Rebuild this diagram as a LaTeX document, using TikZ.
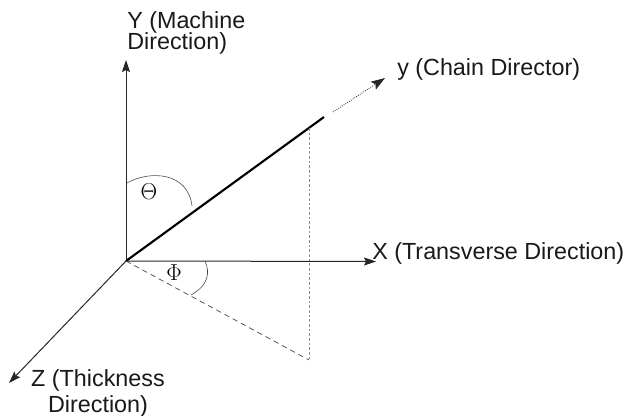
\documentclass[tikz,border=0pt]{standalone}
\usepackage{fontspec}
\setmainfont{Liberation Sans}
\usetikzlibrary{arrows.meta}
\tikzset{
 axis/.style={draw=black!85,line width=0.75pt,-{Stealth[length=9pt,width=6pt,inset=1.5pt]}},
 lbl/.style={inner sep=0pt,font=\fontsize{17.5pt}{21pt}\selectfont,text=black!90},
 greek/.style={inner sep=0pt,font=\fontsize{17pt}{17pt}\selectfont},
 arcline/.style={draw=black!70,line width=0.45pt}
}
\begin{document}
\begin{tikzpicture}[x=0.75pt,y=-0.75pt]
\useasboundingbox (0,0) rectangle (627,416);
\coordinate (o) at (126,261);
\coordinate (yt) at (126,60);
\coordinate (xt) at (376,261.5);
\coordinate (zt) at (9,383);
\coordinate (e) at (324,117);
\coordinate (d1) at (333,112);
\coordinate (d2) at (385,78);
\coordinate (p) at (309,360);
\coordinate (q) at (309,128);
\draw[axis] (o) -- (yt);
\draw[axis] (o) -- (xt);
\draw[axis] (o) -- (zt);
\draw[black,line width=1.6pt] (o) -- (e);
\draw[black!85,line width=0.6pt,densely dotted,-{Stealth[length=10.5pt,width=7pt,inset=2pt]}] (d1) -- (d2);
\draw[black!45,line width=0.7pt,dash pattern=on 2pt off 1.5pt] (q) -- (p);
\draw[black!75,line width=0.5pt,dash pattern=on 4pt off 3pt] (o) -- (p);
\draw[arcline] (127,183) .. controls (150,170) and (188,172) .. (192,206);
\draw[arcline] (205,261) .. controls (210,272) and (209,285) .. (191,295);
\node[lbl,align=left,anchor=west] (ty) at (127,32.5) {Y (Machine\\[-5.25pt]Direction)};
\node[lbl,anchor=base west] (ly) at (397,76) {y (Chain Director)};
\node[lbl,anchor=base west] (lx) at (372,260) {X (Transverse Direction)};
\node[lbl,align=center] (lz) at (98,393.5) {Z (Thickness\\[-1.5pt]Direction)};
\node[greek] (th) at (149,192) {$\Theta$};
\node[greek] (ph) at (174,273) {$\Phi$};
\end{tikzpicture}
\end{document}
